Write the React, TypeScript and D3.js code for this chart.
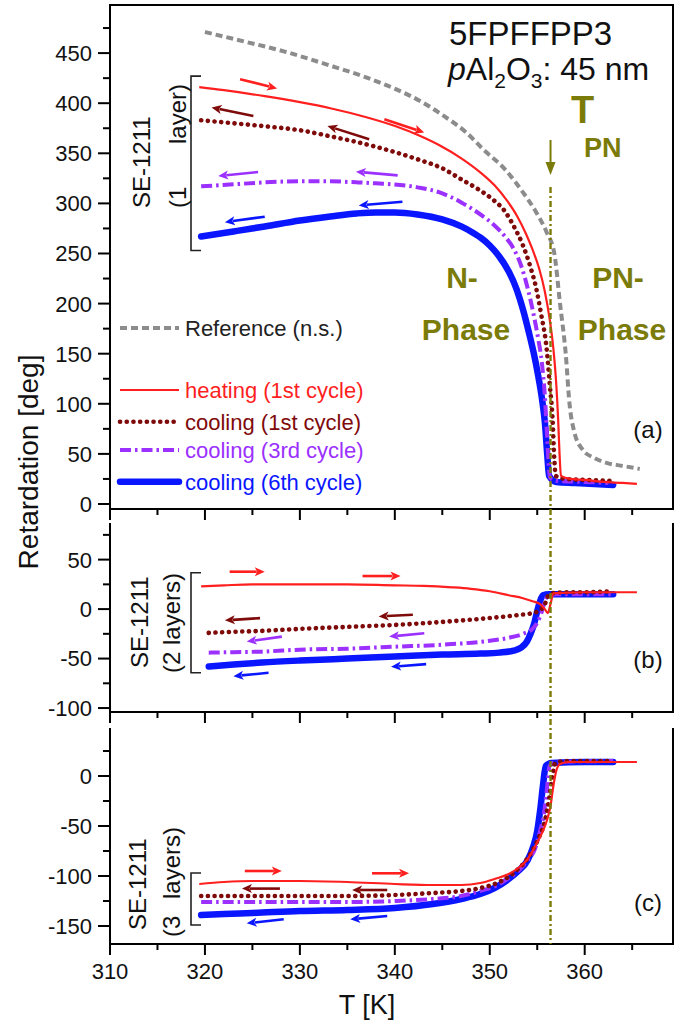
import React from "react"
import * as d3 from "d3"

type Pt = [number, number]
type Arrow = [number, number, number, number]

// temperature axis
const xMajor = [310, 320, 330, 340, 350, 360]
const xMinor = [315, 325, 335, 345, 355, 365]
const T_PN = 356.4

const legendLabels = [
  "Reference (n.s.)",
  "heating (1st cycle)",
  "cooling (1st cycle)",
  "cooling (3rd cycle)",
  "cooling (6th cycle)"
]

// panel (a): SE-1211, 1 layer
const refA: Pt[] = [
  [320, 471], [324.4, 461], [328.6, 451], [332.7, 439], [336.9, 426], [340.1, 414],
  [342.9, 401], [345.2, 387], [347.5, 371], [349.3, 354], [351.6, 334], [353.5, 311],
  [354.9, 291], [356, 271], [356.8, 250], [357.4, 200], [358, 150], [358.4, 100],
  [358.9, 72], [359.8, 54], [361, 46], [362.3, 41], [364, 38], [365.8, 35]
]
const heatA: Pt[] = [
  [319.4, 416], [322, 413], [326.3, 407], [330, 401], [333.2, 395], [337, 386],
  [340.1, 377], [342.5, 368], [344.7, 358], [347, 345], [349, 331], [350.5, 318],
  [351.8, 303], [352.9, 287], [353.8, 270], [354.5, 254], [355.2, 235], [355.8, 212],
  [356.3, 185], [356.7, 155], [357, 120], [357.2, 85], [357.35, 50], [357.5, 28],
  [358.5, 25], [360, 24], [362, 22], [364, 21], [365.5, 20]
]
const cool1A: Pt[] = [
  [319.6, 383], [323, 380], [326.3, 377], [330, 373], [333.2, 367], [337.8, 357],
  [342.4, 344], [345, 335], [347, 324], [348.8, 314], [350.3, 304], [351.6, 292],
  [352.6, 276], [353.5, 258], [354.3, 236], [354.9, 215], [355.4, 190], [356, 154],
  [356.3, 121], [356.6, 87], [356.8, 45], [356.95, 28], [358, 25], [360, 24], [363, 23]
]
const cool3A: Pt[] = [
  [319.6, 317], [323, 319], [326.3, 321], [330, 322], [333.2, 322], [336, 321],
  [338, 320], [342.4, 316], [345, 310], [347, 301], [349.3, 287], [350.5, 278],
  [351.6, 267], [352.5, 255], [353.3, 238], [354, 215], [354.6, 190], [355.1, 165],
  [355.5, 140], [355.8, 108], [356.05, 65], [356.2, 40], [356.35, 26], [357, 23],
  [360, 22], [362.5, 21]
]
const cool6A: Pt[] = [
  [319.6, 267], [323, 272], [326.3, 277], [330, 283], [333.2, 287], [336, 290],
  [338, 291], [340, 291], [342.4, 289], [345, 284], [347, 277], [348, 272], [349, 266],
  [350, 258], [351, 247], [352, 232], [352.8, 215], [353.5, 194], [354.1, 172],
  [354.6, 152], [355.1, 128], [355.5, 105], [355.8, 82], [356.05, 50], [356.25, 28],
  [357, 22], [359, 21], [361, 20], [363, 19]
]

// panel (b): 2 layers
const heatB: Pt[] = [
  [319.6, 23], [322, 24], [325, 25], [330, 25], [335, 25], [340, 24], [343, 23.5],
  [346, 22], [348, 20.5], [350, 18], [352, 14], [353.5, 11], [354.5, 8], [355.3, 5],
  [355.8, 0], [356.1, -4], [356.4, 5], [356.7, 16], [358, 16.5], [360, 17], [363, 17],
  [365.5, 17]
]
const cool1B: Pt[] = [
  [320.4, -24], [323, -23], [326, -22], [330, -20], [335, -18], [340, -16], [345, -13],
  [350, -9], [353, -6], [354.5, -4], [355.3, -1], [355.8, 5], [356.2, 14], [356.6, 16],
  [358, 17], [360, 17], [363, 18]
]
const cool3B: Pt[] = [
  [320.4, -44], [323, -43.5], [326, -43], [330, -41], [335, -40], [340, -38], [345, -36],
  [350, -32], [352, -29], [353.5, -25], [354.5, -20], [355.1, -12], [355.5, -2],
  [355.8, 8], [356.1, 13], [357, 15], [360, 15], [363, 15]
]
const cool6B: Pt[] = [
  [320.4, -58], [323, -56], [326, -54], [330, -52], [335, -50], [340, -48], [345, -46],
  [349, -45], [351, -44], [352.5, -42], [353.3, -39], [353.9, -33], [354.3, -25],
  [354.7, -14], [355, -2], [355.3, 8], [355.6, 14], [356.2, 15], [360, 15], [363, 15]
]

// panel (c): 3 layers
const heatC: Pt[] = [
  [319.4, -108], [322, -106], [325, -105], [330, -105], [335, -106], [340, -108],
  [344, -109], [347, -109], [349, -107], [350.5, -103], [352, -98], [353, -92],
  [354, -83], [354.8, -70], [355.5, -57], [356, -45], [356.4, -30], [356.7, -10],
  [357, 5], [357.4, 12], [358.3, 14], [362, 14], [365.5, 14]
]
const cool1C: Pt[] = [
  [319.6, -120], [325, -120], [330, -120], [335, -120], [340, -119], [344, -117],
  [347, -115], [349, -112], [351, -106], [352.5, -97], [354, -82], [355, -65],
  [355.8, -45], [356.3, -20], [356.6, 0], [356.9, 13], [358, 15], [363, 15]
]
const cool3C: Pt[] = [
  [319.6, -126], [325, -126], [330, -126], [335, -126], [340, -125], [344, -123],
  [347, -120], [349, -115], [350.6, -110], [352, -102], [353, -95], [354, -84],
  [354.8, -72], [355.3, -55], [355.7, -38], [356, -15], [356.3, 10], [357, 14], [363, 15]
]
const cool6C: Pt[] = [
  [319.6, -139], [322, -138], [325, -137], [330, -135], [335, -134], [340, -132],
  [344, -128], [347, -123], [349, -118], [350.5, -112], [352, -103], [353, -95],
  [354, -84], [354.6, -70], [355, -55], [355.3, -35], [355.6, -10], [355.9, 10],
  [356.5, 13], [360, 14], [363, 14]
]

// direction arrows [T tail, value tail, T head, value head]
const arrowsA: Arrow[][] = [
  [[323.7, 424, 327.6, 414.7], [338.9, 384, 343.1, 370.7]],
  [[325.1, 387.3, 320.7, 395.7], [337.3, 364, 332.9, 377.3]],
  [[325.6, 331.3, 321.4, 327.3], [340.3, 328, 335.9, 331.7]],
  [[326.3, 286.7, 322.1, 281.3], [340.8, 301.7, 336.2, 298]]
]
const arrowsB: Arrow[][] = [
  [[322.6, 37.8, 326.3, 37.8], [336.6, 33.4, 340.6, 33.4]],
  [[325.8, -9.1, 322.1, -11.4], [341.9, -5.7, 338.3, -7.4]],
  [[328.1, -27.8, 324.4, -32.8], [343.1, -24.4, 339.4, -27.8]],
  [[326.7, -64.4, 323, -67.8], [343.3, -55.6, 339.6, -58.3]]
]
const arrowsC: Arrow[][] = [
  [[324.2, -95, 328.1, -95], [337.6, -97.3, 341.5, -97.3]],
  [[327.9, -112.6, 323.9, -112.6], [339.2, -114, 335.5, -114]],
  [],
  [[328.3, -143.3, 324.4, -147.3], [339.2, -140, 335.3, -143.3]]
]

const colors = ["#8c8c8c", "#ff1f1f", "#7f0a0a", "#9b30ff", "#0a16ff"]
const widths = [4, 2.2, 4.6, 4, 6.5]
const dashes = ["7 4", "", "0.1 6.6", "11 4 2.5 4", ""]
const caps = ["butt", "butt", "round", "butt", "round"]
const olive = "#7b7b0a"
const font = "'Liberation Sans', Arial, Helvetica, sans-serif"

const x = d3.scaleLinear().domain([310, 369.3]).range([110, 673])

const panels = [
  {
    key: "a", top: 5, bottom: 509, domain: [-5, 498],
    major: d3.range(0, 451, 50), minor: d3.range(25, 476, 50),
    series: [refA, heatA, cool1A, cool3A, cool6A], arrows: arrowsA,
    bracket: [427, 253], num: "(1", word: "layer)", tag: "(a)", tagY: 438,
    seBottom: 208, layBottom: 208, layTop: 84, seX: 141, layX: 177
  },
  {
    key: "b", top: 523, bottom: 712, domain: [-104, 87],
    major: d3.range(-100, 51, 50), minor: d3.range(-75, 76, 50),
    series: [null, heatB, cool1B, cool3B, cool6B], arrows: arrowsB,
    bracket: [36.7, -64.4], num: "(2", word: "layers)", tag: "(b)", tagY: 668,
    seBottom: 668, layBottom: 673, layTop: 573, seX: 139, layX: 171
  },
  {
    key: "c", top: 728, bottom: 944, domain: [-168, 48],
    major: d3.range(-150, 1, 50), minor: d3.range(-125, 26, 50),
    series: [null, heatC, cool1C, cool3C, cool6C], arrows: arrowsC,
    bracket: [-97, -149], num: "(3", word: "layers)", tag: "(c)", tagY: 911,
    seBottom: 930, layBottom: 937, layTop: 827, seX: 137, layX: 171
  }
]

const drawOrder = [0, 4, 3, 2, 1]

function ArrowMark({ a, y, color }: { a: Arrow; y: d3.ScaleLinear<number, number>; color: string }) {
  const x1 = x(a[0]), y1 = y(a[1]), x2 = x(a[2]), y2 = y(a[3])
  const ang = Math.atan2(y2 - y1, x2 - x1)
  const L = 10, W = 4.5
  const c = Math.cos(ang), s = Math.sin(ang)
  const bx = x2 - L * c, by = y2 - L * s
  const px = -s * W, py = c * W
  return (
    <g>
      <line x1={x1} y1={y1} x2={bx + 2 * c} y2={by + 2 * s} stroke={color} strokeWidth={2.6} />
      <path d={`M${x2},${y2}L${bx + px},${by + py}L${bx + 2.5 * c},${by + 2.5 * s}L${bx - px},${by - py}Z`} fill={color} />
    </g>
  )
}

export default function App() {
  const vx = x(T_PN)
  return (
    <div style={{ position: "absolute", left: 0, top: 0 }}>
      <svg width={686} height={1024} style={{ display: "block", background: "#fff" }} fontFamily={font}>
        {panels.map(p => {
          const y = d3.scaleLinear().domain(p.domain).range([p.bottom, p.top])
          const line = d3.line<Pt>().x(d => x(d[0])).y(d => y(d[1])).curve(d3.curveMonotoneX)
          return (
            <g key={p.key}>
              {drawOrder.map(i => {
                const s = p.series[i]
                if (!s) return null
                return (
                  <path key={i} d={line(s) || ""} fill="none" stroke={colors[i]} strokeWidth={widths[i]}
                    strokeDasharray={dashes[i] || undefined} strokeLinecap={caps[i] as any} strokeLinejoin="round" />
                )
              })}
              {p.arrows.map((group, gi) =>
                group.map((a, k) => <ArrowMark key={gi + "-" + k} a={a} y={y} color={colors[gi + 1]} />)
              )}
              {/* frame */}
              <line x1={110} x2={110} y1={p.top} y2={p.bottom} stroke="#000" strokeWidth={2} />
              <line x1={673} x2={673} y1={p.top} y2={p.bottom} stroke="#000" strokeWidth={2} />
              <line x1={109} x2={674} y1={p.bottom} y2={p.bottom} stroke="#000" strokeWidth={2} />
              {p.key === "a" && <line x1={109} x2={674} y1={p.top} y2={p.top} stroke="#000" strokeWidth={2} />}
              {p.major.map(v => (
                <g key={"M" + v}>
                  <line x1={98} x2={110} y1={y(v)} y2={y(v)} stroke="#000" strokeWidth={2} />
                  <text x={92} y={y(v)} dy="0.36em" textAnchor="end" fontSize={22} fill="#111">{v}</text>
                </g>
              ))}
              {p.minor.filter(v => y(v) >= p.top).map(v => (
                <line key={"m" + v} x1={103} x2={110} y1={y(v)} y2={y(v)} stroke="#000" strokeWidth={2} />
              ))}
              {xMajor.map(t => (
                <line key={"xM" + t} x1={x(t)} x2={x(t)} y1={p.bottom} y2={p.bottom + 11} stroke="#000" strokeWidth={2} />
              ))}
              {xMinor.map(t => (
                <line key={"xm" + t} x1={x(t)} x2={x(t)} y1={p.bottom} y2={p.bottom + 6} stroke="#000" strokeWidth={2} />
              ))}
              {/* sample bracket */}
              <path d={`M201,${y(p.bracket[0])}H191V${y(p.bracket[1])}H201`} fill="none" stroke="#222" strokeWidth={1.6} />
              <text transform={`translate(${p.seX},${p.seBottom}) rotate(-90)`} dy="0.36em" fontSize={24} fill="#111">SE-1211</text>
              <text transform={`translate(${p.layX},${p.layBottom}) rotate(-90)`} dy="0.36em" fontSize={24} fill="#111">{p.num}</text>
              <text transform={`translate(${p.layX},${p.layTop}) rotate(-90)`} dy="0.36em" textAnchor="end" fontSize={24} fill="#111">{p.word}</text>
              <text x={648} y={p.tagY} textAnchor="middle" fontSize={24} fill="#111">{p.tag}</text>
            </g>
          )
        })}

        {/* x axis labels */}
        {xMajor.map(t => (
          <text key={"xl" + t} x={x(t)} y={979} textAnchor="middle" fontSize={22} fill="#111">{t}</text>
        ))}
        <text x={367} y={1014} textAnchor="middle" fontSize={27} fill="#111">T [K]</text>
        <text transform="translate(28,462) rotate(-90)" textAnchor="middle" dy="0.36em" fontSize={28} fill="#111">Retardation [deg]</text>

        {/* T_PN marker */}
        <line x1={vx} x2={vx} y1={187} y2={944} stroke={olive} strokeWidth={2.4} strokeDasharray="6 3 2 3" />
        <line x1={vx} x2={vx} y1={140} y2={163} stroke={olive} strokeWidth={2} />
        <path d={`M${vx - 5},${162}L${vx + 5},${162}L${vx},${175}Z`} fill={olive} />
        <text x={571} y={123} fontSize={38} fontWeight="bold" fill={olive}>T</text>
        <text x={584} y={157} fontSize={27} fontWeight="bold" fill={olive}>PN</text>
        <text x={462} y={288} textAnchor="middle" fontSize={30} fontWeight="bold" fill={olive}>N-</text>
        <text x={466} y={340} textAnchor="middle" fontSize={30} fontWeight="bold" fill={olive}>Phase</text>
        <text x={618} y={288} textAnchor="middle" fontSize={30} fontWeight="bold" fill={olive}>PN-</text>
        <text x={622} y={340} textAnchor="middle" fontSize={30} fontWeight="bold" fill={olive}>Phase</text>

        {/* title */}
        <text x={449} y={45} fontSize={33} fill="#111">5FPFFPP3</text>
        <text x={448} y={80} fontSize={32} fill="#111">
          <tspan fontStyle="italic">p</tspan>Al<tspan fontSize={21} dy={8}>2</tspan><tspan dy={-8}>O</tspan><tspan fontSize={21} dy={8}>3</tspan><tspan dy={-8}>: 45 nm</tspan>
        </text>

        {/* legend */}
        {[328, 390, 421.7, 450, 481.7].map((ly, i) => (
          <g key={"lg" + i}>
            <line x1={120} x2={179} y1={ly} y2={ly} stroke={colors[i]} strokeWidth={widths[i]}
              strokeDasharray={dashes[i] || undefined} strokeLinecap={caps[i] as any} />
            <text x={185} y={ly} dy="0.36em" fontSize={22} fill={i === 0 ? "#222" : colors[i]}>{legendLabels[i]}</text>
          </g>
        ))}
      </svg>
    </div>
  )
}
